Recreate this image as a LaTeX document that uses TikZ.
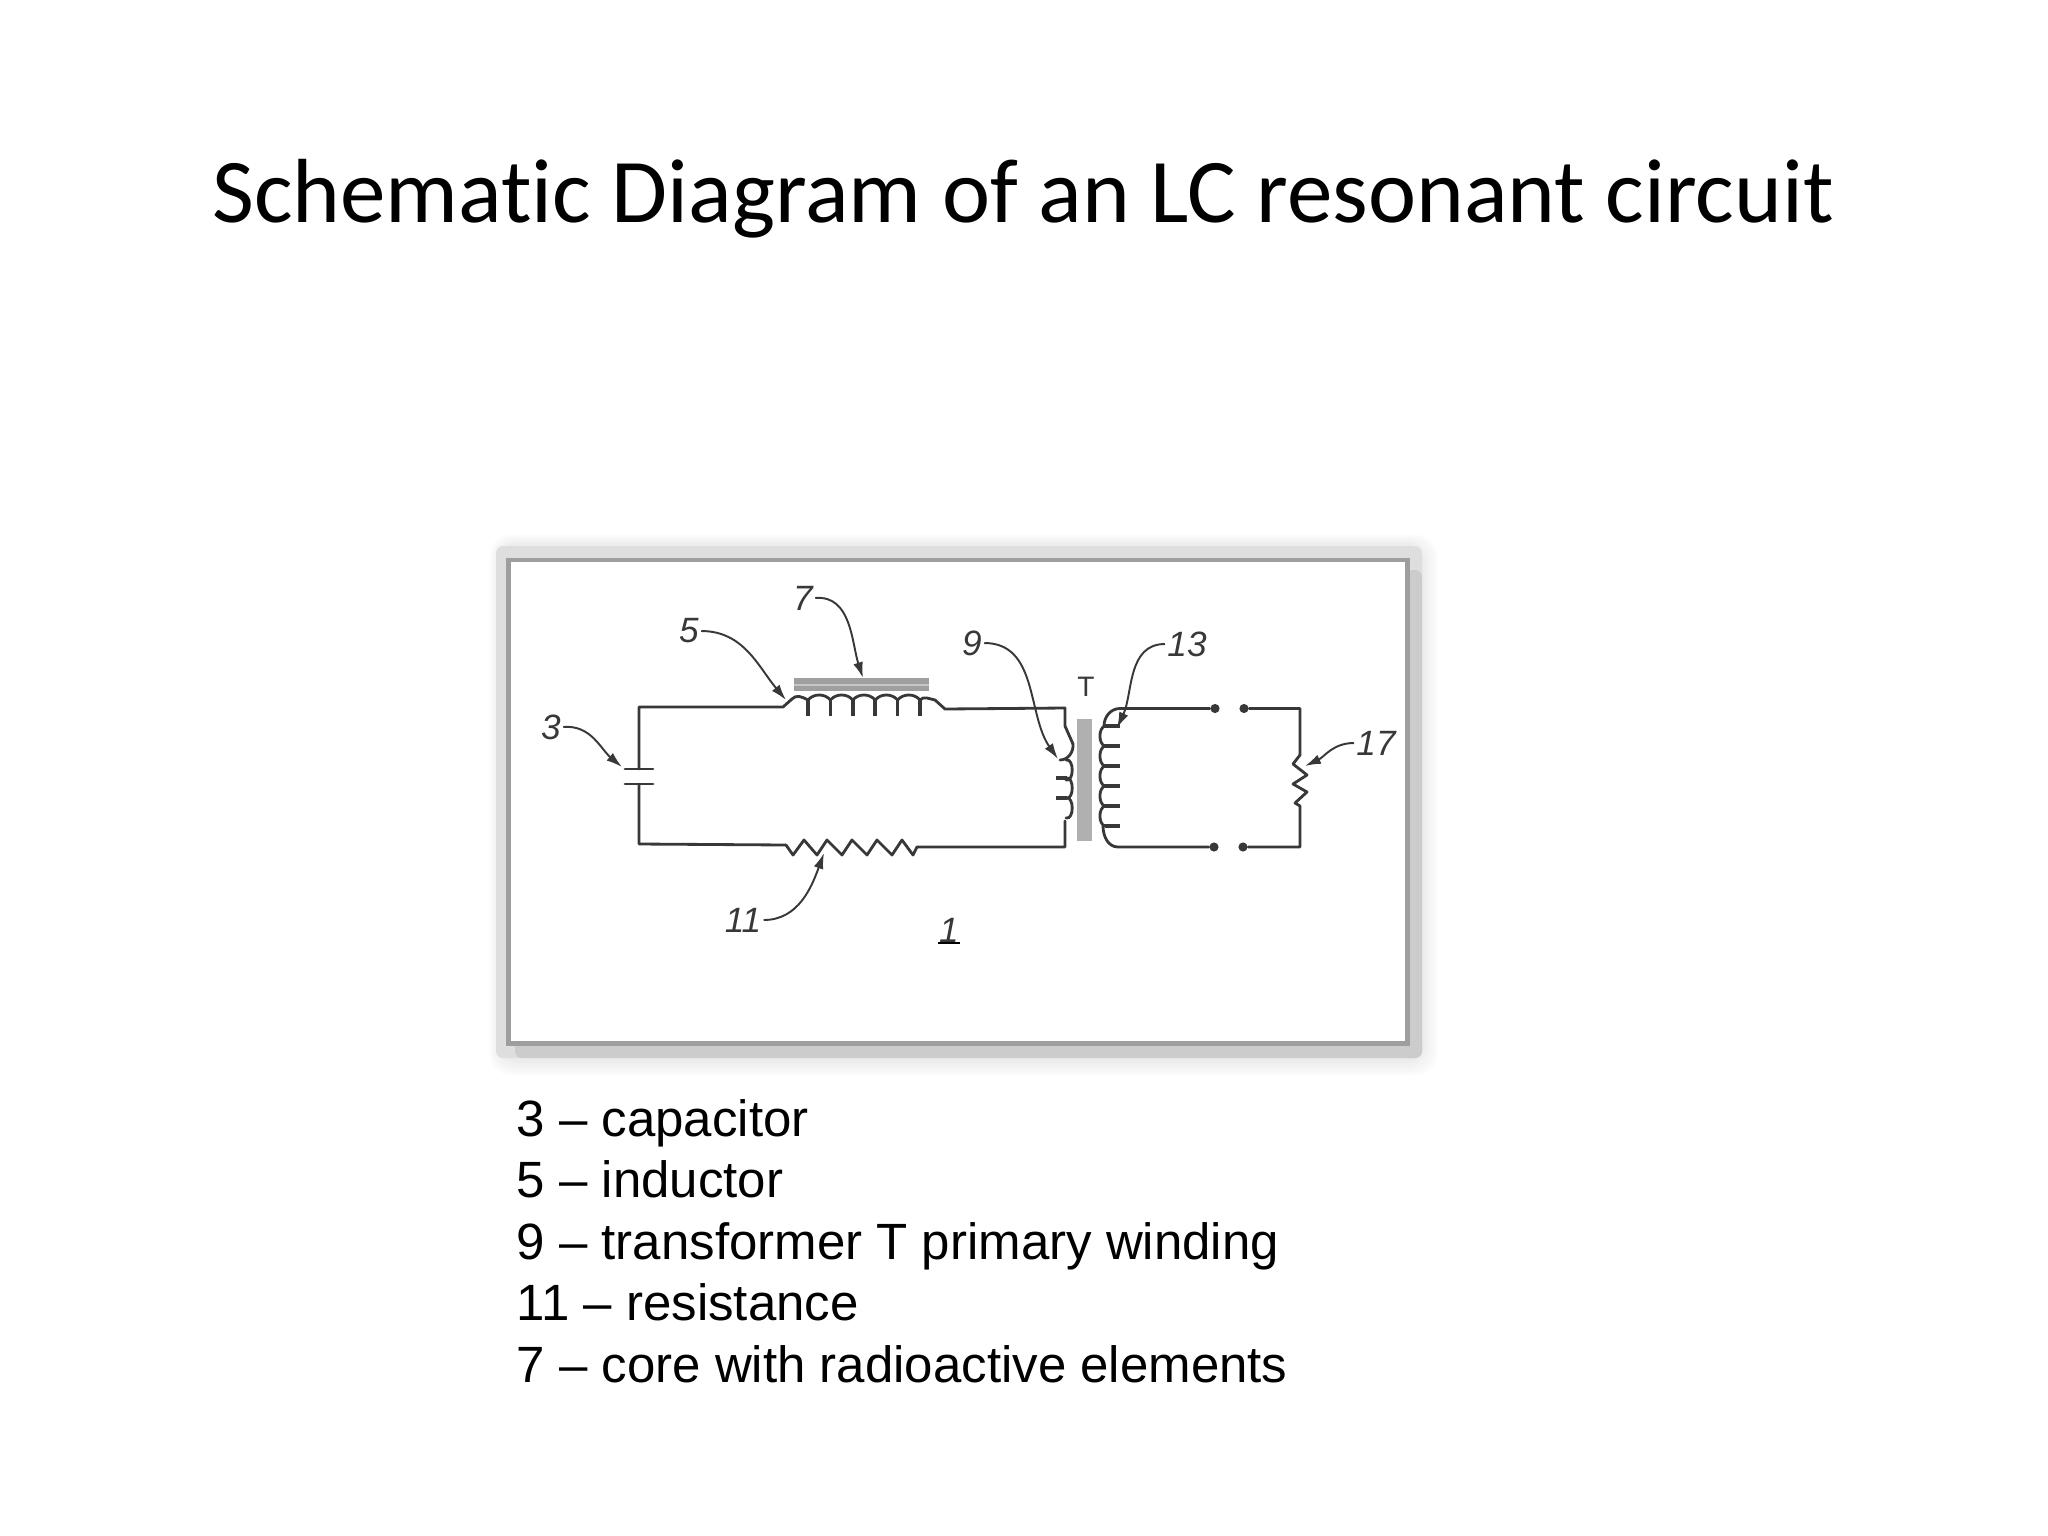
\documentclass[tikz,border=0pt]{standalone}
\usepackage{fontspec}
\setmainfont{Liberation Sans}
\newfontfamily\titlefont[Ligatures=NoCommon]{Carlito}
\usetikzlibrary{arrows.meta}
\definecolor{wirecol}{gray}{0.22}
\definecolor{frameA}{gray}{0.87}
\definecolor{frameB}{gray}{0.80}
\definecolor{frameC}{gray}{0.62}
\tikzset{
  wire/.style={draw=wirecol,line width=0.8pt,line join=round,line cap=round},
  tickmark/.style={draw=wirecol,line width=1.05pt},
  leader/.style={draw=wirecol,line width=0.55pt,-{Latex[length=4.5pt,width=2.8pt]}},
  partlabel/.style={inner sep=0.5pt,text=wirecol,font=\fontsize{10}{12}\selectfont\itshape},
  terminal/.style={circle,fill=wirecol,inner sep=0pt,minimum size=2.6pt},
  legend/.style={anchor=base west,inner sep=0pt,font=\fontsize{14.5}{18}\selectfont}
}
\begin{document}
\begin{tikzpicture}[x=0.01cm,y=-0.01cm]
  \useasboundingbox (0,0) rectangle (2048,1536);
  \fill[white] (0,0) rectangle (2048,1536);
  \node[anchor=base,inner sep=0pt,font=\fontsize{25.9}{30}\titlefont] (title) at (1023,222)
    {Schematic Diagram of an LC resonant circuit};
  % frame and its shadow
  \foreach[evaluate={488 + 2*\k} as \xa, evaluate={1440 - 3*\k} as \xb,
           evaluate={533 + 2*\k} as \ya, evaluate={1078 - 3*\k} as \yb,
           evaluate={1.5*\k} as \tint] \k in {0,...,5} {
    \fill[black!\tint,rounded corners=6pt] (\xa,\ya) rectangle (\xb,\yb);
  }
  \fill[frameA,rounded corners=2pt] (496,546) rectangle (1422,1058);
  \fill[frameB,rounded corners=2pt] (515,1041) rectangle (1422,1058);
  \fill[frameB,rounded corners=2pt] (1405,570) rectangle (1422,1058);
  \fill[frameC] (506,558) rectangle (1410,1046);
  \fill[white] (511,562) rectangle (1405,1041);
  % core pieces
  \fill[gray!75] (794,678) rectangle (929,691);
  \fill[gray!45] (794,684) rectangle (929,686);
  \fill[gray!62] (1077,719) rectangle (1092,841);
  % capacitor and loop
  \coordinate (platetop) at (639,769);
  \coordinate (platebot) at (639,784);
  \draw[wire] (625,769) -- (653,769);
  \draw[wire] (625,784) -- (653,784);
  \draw[wire] (platetop) -- (639,707) -- (783,707) -- (792,699);
  \draw[wire] (platebot) -- (639,844) -- (786,845);
  % inductor
  \draw[wire] (792,699) to[out=50,in=150] (808,700);
  \foreach[evaluate={\i + 22.4} as \j] \i in {808,830.4,...,900} {
    \draw[wire] (\i,700) to[out=50,in=130] (\j,700);
  }
  \foreach \i in {808,830.4,...,925} {
    \draw[tickmark] (\i,700) -- (\i,716);
  }
  \draw[wire] (920,700) to[out=50,in=170] (935,700) -- (945,709) -- (1065,708)
    -- (1065,726) -- (1073,744);
  % resistor
  \draw[wire] (786,845) -- (793,855) -- (804,840) -- (817,855) -- (827,840) -- (842,855)
    -- (852,840) -- (867,855) -- (877,840) -- (892,855) -- (902,840) -- (913,855)
    -- (917,847) -- (1065,847) -- (1065,821);
  % primary winding
  \draw[wire] (1073,744) to[out=-85,in=0] (1060,760);
  \foreach[evaluate={\i + 20} as \j] \i in {760,778,798} {
    \draw[wire] (1066,\i) to[out=15,in=-15,looseness=1.1] (1066,\j);
  }
  \foreach \i in {778,798} {
    \draw[tickmark] (1056,\i) -- (1067,\i);
  }
  % secondary winding
  \foreach[evaluate={\i + 20} as \j] \i in {726,746,...,810} {
    \draw[wire] (1105,\i) to[out=195,in=165,looseness=0.9] (1105,\j);
  }
  \foreach \i in {726,746,...,830} {
    \draw[tickmark] (1105,\i) -- (1120,\i);
  }
  \node[terminal] (outa) at (1215,708.5) {};
  \node[terminal] (outb) at (1244,708.5) {};
  \node[terminal] (outc) at (1214,847) {};
  \node[terminal] (outd) at (1243,847) {};
  \draw[wire] (outa) -- (1120,708.5) to[out=180,in=90] (1104,726);
  \draw[wire] (outc) -- (1118,847) to[out=180,in=-90] (1103,826);
  \draw[wire] (outb) -- (1300,708.5) -- (1300,755) -- (1293,764) -- (1307,775) -- (1293,784)
    -- (1307,792) -- (1295,803) -- (1300,806) -- (1300,847) -- (outd);
  % labels
  \node[partlabel] (lblthree) at (551,727) {3};
  \node[partlabel] (lblfive) at (689,631) {5};
  \node[partlabel] (lblseven) at (803,598) {7};
  \node[partlabel] (lblnine) at (972,643) {9};
  \node[partlabel] (lblthirteen) at (1187,644) {13};
  \node[partlabel] (lblseventeen) at (1376,743) {17};
  \node[partlabel] (lbleleven) at (743,920) {11};
  \node[partlabel,label={[label distance=-1.2pt,inner sep=0pt]below:{\rule{6pt}{0.7pt}}}] (lblone) at (949,930) {1};
  \node[inner sep=0pt,text=wirecol,font=\fontsize{8}{9}\selectfont] (lblt) at (1086,687) {T};
  % leaders
  \coordinate (tipthree) at (622,767);
  \coordinate (tipfive) at (786,700);
  \coordinate (tipseven) at (863,678);
  \coordinate (tipnine) at (1058,759);
  \coordinate (tipthirteen) at (1117,728);
  \coordinate (tipseventeen) at (1305,766);
  \coordinate (tipeleven) at (824,853);
  \draw[leader] (lblthree.east) to[out=5,in=140] (tipthree);
  \draw[leader] (lblfive.east) to[out=0,in=130] (tipfive);
  \draw[leader] (lblseven.east) to[out=5,in=108] (tipseven);
  \draw[leader] (lblnine.east) to[out=0,in=125] (tipnine);
  \draw[leader] (lblthirteen.west) to[out=180,in=65] (tipthirteen);
  \draw[leader] (lblseventeen.west) to[out=180,in=25] (tipseventeen);
  \draw[leader] (lbleleven.east) to[out=0,in=250] (tipeleven);
  % legend below the frame
  \foreach[count=\n, evaluate={1136 + 61.5*(\n - 1)} as \y] \txt in
    {3 -- capacitor,5 -- inductor,9 -- transformer T primary winding,
     11 -- resistance,7 -- core with radioactive elements} {
    \node[legend] (item\n) at (516,\y) {\txt};
  }
\end{tikzpicture}
\end{document}
